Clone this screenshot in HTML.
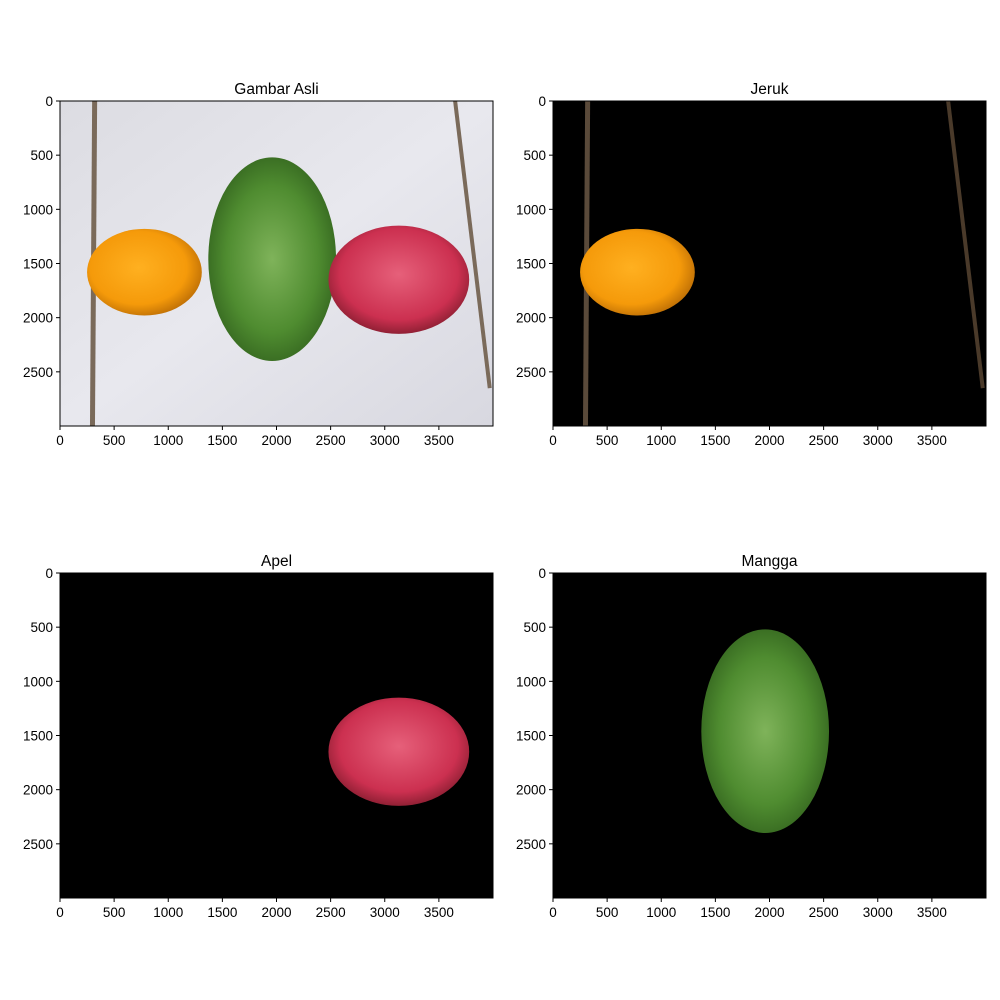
<!DOCTYPE html>
<html><head><meta charset="utf-8"><style>body{margin:0;background:#fff}svg{display:block}text{font-family:"Liberation Sans","DejaVu Sans",sans-serif}</style></head>
<body>
<svg id="fig" width="1000" height="1000" viewBox="0 0 1000 1000" xmlns="http://www.w3.org/2000/svg">
<defs>
<radialGradient id="gOr" cx="0.45" cy="0.45" r="0.6"><stop offset="0" stop-color="#ffb020"/><stop offset="0.7" stop-color="#f59a0a"/><stop offset="1" stop-color="#b86a05"/></radialGradient>
<radialGradient id="gMg" cx="0.5" cy="0.5" r="0.6"><stop offset="0" stop-color="#7fb35a"/><stop offset="0.6" stop-color="#4f8c30"/><stop offset="1" stop-color="#2c5a1a"/></radialGradient>
<radialGradient id="gAp" cx="0.5" cy="0.45" r="0.6"><stop offset="0" stop-color="#e6607a"/><stop offset="0.7" stop-color="#cc3050"/><stop offset="1" stop-color="#7a1a2a"/></radialGradient>
<linearGradient id="gBg" x1="0" y1="0" x2="1" y2="1"><stop offset="0" stop-color="#dcdce2"/><stop offset="0.5" stop-color="#e8e8ee"/><stop offset="1" stop-color="#d8d8e0"/></linearGradient>
</defs>
</svg>
<script>
const xTicks=[0,500,1000,1500,2000,2500,3000,3500];
const yTicks=[0,500,1000,1500,2000,2500];
const titles=["Gambar Asli","Jeruk","Apel","Mangga"];
const imgW=4000, imgH=3000;
// fruit ellipses [cx, cy, rx, ry] in image pixels
const orange=[780,1580,530,400];
const mango=[1960,1460,590,940];
const apple=[3130,1650,650,500];
const panels=[[60,101],[553,101],[60,573],[553,573]];
const PW=433, PH=325;
const svg=document.getElementById('fig');
const NS='http://www.w3.org/2000/svg';
function mk(t,a,p){const e=document.createElementNS(NS,t);for(const k in a)e.setAttribute(k,a[k]);(p||svg).appendChild(e);return e;}
panels.forEach((p,i)=>{
  const X=v=>p[0]+v/imgW*PW, Y=v=>p[1]+v/imgH*PH;
  const g=mk('g',{});
  
  
  const bg=mk('rect',{x:p[0],y:p[1],width:PW,height:PH,fill:i==0?'url(#gBg)':'#000'},g);
  
  
  if(i<2){
    const s1=mk('line',{x1:X(320),y1:Y(0),x2:X(300),y2:Y(3000),stroke:i==0?'#7a6a5a':'#5a4a3a','stroke-width':5},g);
    
    
    const s2=mk('line',{x1:X(3650),y1:Y(0),x2:X(3970),y2:Y(2650),stroke:i==0?'#7a6a5a':'#4a3a2a','stroke-width':4},g);
    
    
  }
  const fruit=(d,fill,name)=>{const e=mk('ellipse',{cx:X(d[0]),cy:Y(d[1]),rx:d[2]/imgW*PW,ry:d[3]/imgH*PH,fill:fill},g);
    
    };
  if(i==0||i==1) fruit(orange,'url(#gOr)','orange');
  if(i==0||i==3) fruit(mango,'url(#gMg)','mango');
  if(i==0||i==2) fruit(apple,'url(#gAp)','apple');
  const fr=mk('rect',{x:p[0],y:p[1],width:PW,height:PH,fill:'none',stroke:'#000','stroke-width':1},g);
  
  
  xTicks.forEach(v=>{
    mk('line',{x1:X(v),y1:p[1]+PH,x2:X(v),y2:p[1]+PH+4,stroke:'#000'},g);
    const t=mk('text',{x:X(v),y:p[1]+PH+19,'font-size':13.5,'text-anchor':'middle'},g);t.textContent=v;
    
    
  });
  yTicks.forEach(v=>{
    mk('line',{x1:p[0]-4,y1:Y(v),x2:p[0],y2:Y(v),stroke:'#000'},g);
    const t=mk('text',{x:p[0]-7,y:Y(v)+5,'font-size':13.5,'text-anchor':'end'},g);t.textContent=v;
    
    
  });
  const tt=mk('text',{x:p[0]+PW/2,y:p[1]-7,'font-size':15.5,'text-anchor':'middle'},g);tt.textContent=titles[i];
  
  
});
</script>
</body></html>
